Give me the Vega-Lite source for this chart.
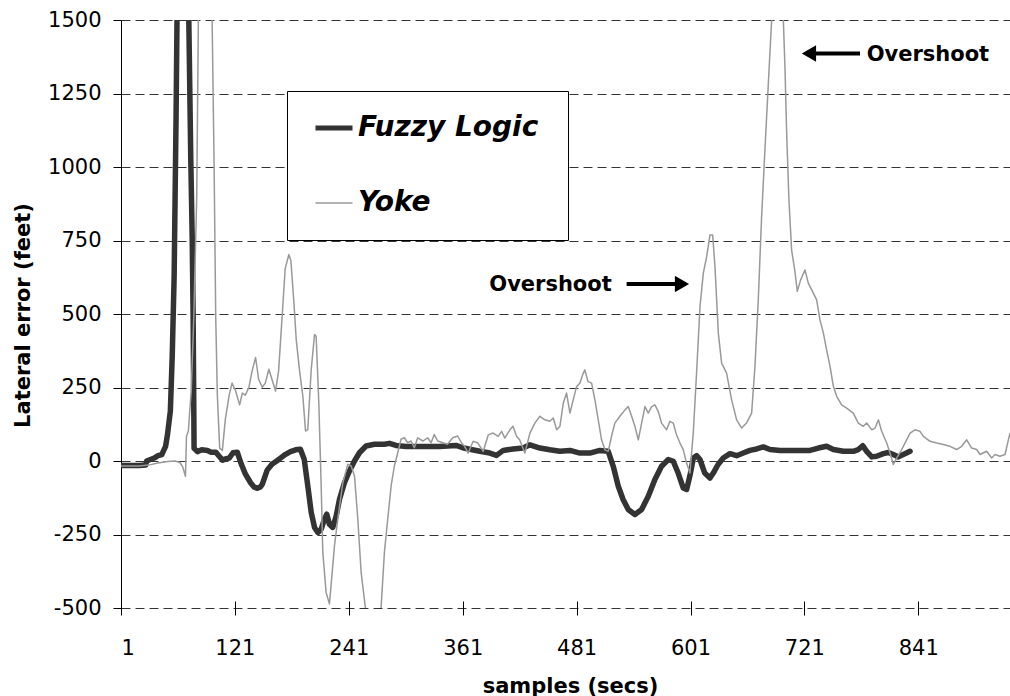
{
  "$schema": "https://vega.github.io/schema/vega-lite/v6.json",
  "width": 889,
  "height": 588,
  "autosize": {"type": "none"},
  "padding": {"left": 121, "top": 20, "right": 0, "bottom": 88},
  "background": "white",
  "config": {
    "view": {"stroke": null},
    "font": "DejaVu Sans",
    "axis": {"labelFont": "DejaVu Sans", "titleFont": "DejaVu Sans", "labelColor": "black", "titleColor": "black"}
  },
  "datasets": {
    "series": [
      {"series":"Fuzzy Logic","s":1,"v":-15},{"series":"Fuzzy Logic","s":10,"v":-15},{"series":"Fuzzy Logic","s":20,"v":-15},{"series":"Fuzzy Logic","s":27,"v":-14},{"series":"Fuzzy Logic","s":28,"v":0},{"series":"Fuzzy Logic","s":32,"v":5},{"series":"Fuzzy Logic","s":36,"v":10},{"series":"Fuzzy Logic","s":40,"v":18},{"series":"Fuzzy Logic","s":44,"v":22},{"series":"Fuzzy Logic","s":46,"v":36},{"series":"Fuzzy Logic","s":48,"v":50},{"series":"Fuzzy Logic","s":50,"v":90},{"series":"Fuzzy Logic","s":53,"v":170},{"series":"Fuzzy Logic","s":55,"v":360},{"series":"Fuzzy Logic","s":57,"v":630},{"series":"Fuzzy Logic","s":59,"v":1165},{"series":"Fuzzy Logic","s":60,"v":1500},{"series":"Fuzzy Logic","s":63,"v":2400},{"series":"Fuzzy Logic","s":66,"v":2800},{"series":"Fuzzy Logic","s":69,"v":2400},{"series":"Fuzzy Logic","s":72,"v":1600},{"series":"Fuzzy Logic","s":74.5,"v":1030},{"series":"Fuzzy Logic","s":76,"v":760},{"series":"Fuzzy Logic","s":77,"v":490},{"series":"Fuzzy Logic","s":78,"v":43},{"series":"Fuzzy Logic","s":81.5,"v":32},{"series":"Fuzzy Logic","s":86,"v":38},{"series":"Fuzzy Logic","s":92,"v":36},{"series":"Fuzzy Logic","s":96,"v":30},{"series":"Fuzzy Logic","s":101,"v":30},{"series":"Fuzzy Logic","s":104,"v":18},{"series":"Fuzzy Logic","s":108,"v":3},{"series":"Fuzzy Logic","s":112,"v":8},{"series":"Fuzzy Logic","s":115,"v":10},{"series":"Fuzzy Logic","s":119,"v":28},{"series":"Fuzzy Logic","s":123.5,"v":30},{"series":"Fuzzy Logic","s":127,"v":-4},{"series":"Fuzzy Logic","s":132,"v":-44},{"series":"Fuzzy Logic","s":137.5,"v":-74},{"series":"Fuzzy Logic","s":141,"v":-88},{"series":"Fuzzy Logic","s":144.5,"v":-93},{"series":"Fuzzy Logic","s":148,"v":-88},{"series":"Fuzzy Logic","s":150,"v":-78},{"series":"Fuzzy Logic","s":155,"v":-31},{"series":"Fuzzy Logic","s":160,"v":-11},{"series":"Fuzzy Logic","s":165,"v":0},{"series":"Fuzzy Logic","s":169,"v":10},{"series":"Fuzzy Logic","s":174,"v":22},{"series":"Fuzzy Logic","s":179.5,"v":32},{"series":"Fuzzy Logic","s":185,"v":38},{"series":"Fuzzy Logic","s":190,"v":40},{"series":"Fuzzy Logic","s":194,"v":6},{"series":"Fuzzy Logic","s":197.8,"v":-85},{"series":"Fuzzy Logic","s":201.4,"v":-175},{"series":"Fuzzy Logic","s":204.9,"v":-226},{"series":"Fuzzy Logic","s":208.4,"v":-243},{"series":"Fuzzy Logic","s":211.9,"v":-232},{"series":"Fuzzy Logic","s":215.4,"v":-198},{"series":"Fuzzy Logic","s":217.8,"v":-181},{"series":"Fuzzy Logic","s":220.6,"v":-215},{"series":"Fuzzy Logic","s":224.1,"v":-226},{"series":"Fuzzy Logic","s":227.7,"v":-187},{"series":"Fuzzy Logic","s":231.2,"v":-130},{"series":"Fuzzy Logic","s":236.4,"v":-74},{"series":"Fuzzy Logic","s":241.7,"v":-34},{"series":"Fuzzy Logic","s":247,"v":0},{"series":"Fuzzy Logic","s":252.2,"v":28},{"series":"Fuzzy Logic","s":259.2,"v":51},{"series":"Fuzzy Logic","s":268,"v":57},{"series":"Fuzzy Logic","s":278.5,"v":57},{"series":"Fuzzy Logic","s":283.8,"v":60},{"series":"Fuzzy Logic","s":290.8,"v":53},{"series":"Fuzzy Logic","s":301.4,"v":49},{"series":"Fuzzy Logic","s":319,"v":49},{"series":"Fuzzy Logic","s":336.5,"v":49},{"series":"Fuzzy Logic","s":354,"v":53},{"series":"Fuzzy Logic","s":361,"v":45},{"series":"Fuzzy Logic","s":368.5,"v":40},{"series":"Fuzzy Logic","s":379,"v":33},{"series":"Fuzzy Logic","s":389.6,"v":27},{"series":"Fuzzy Logic","s":396.6,"v":19},{"series":"Fuzzy Logic","s":403.7,"v":36},{"series":"Fuzzy Logic","s":414,"v":41},{"series":"Fuzzy Logic","s":424.7,"v":44},{"series":"Fuzzy Logic","s":431.8,"v":55},{"series":"Fuzzy Logic","s":442.3,"v":44},{"series":"Fuzzy Logic","s":452.8,"v":38},{"series":"Fuzzy Logic","s":463.4,"v":33},{"series":"Fuzzy Logic","s":474,"v":36},{"series":"Fuzzy Logic","s":484.5,"v":27},{"series":"Fuzzy Logic","s":495,"v":27},{"series":"Fuzzy Logic","s":505.5,"v":36},{"series":"Fuzzy Logic","s":514.3,"v":33},{"series":"Fuzzy Logic","s":519.6,"v":-18},{"series":"Fuzzy Logic","s":524.9,"v":-86},{"series":"Fuzzy Logic","s":530,"v":-131},{"series":"Fuzzy Logic","s":535.4,"v":-165},{"series":"Fuzzy Logic","s":542.4,"v":-182},{"series":"Fuzzy Logic","s":549.5,"v":-165},{"series":"Fuzzy Logic","s":556.5,"v":-120},{"series":"Fuzzy Logic","s":563.5,"v":-63},{"series":"Fuzzy Logic","s":570.5,"v":-18},{"series":"Fuzzy Logic","s":577.6,"v":5},{"series":"Fuzzy Logic","s":582.8,"v":-1},{"series":"Fuzzy Logic","s":588,"v":-41},{"series":"Fuzzy Logic","s":593.4,"v":-92},{"series":"Fuzzy Logic","s":596.9,"v":-97},{"series":"Fuzzy Logic","s":600.4,"v":-50},{"series":"Fuzzy Logic","s":604,"v":10},{"series":"Fuzzy Logic","s":607.4,"v":18},{"series":"Fuzzy Logic","s":611,"v":5},{"series":"Fuzzy Logic","s":616,"v":-41},{"series":"Fuzzy Logic","s":621.5,"v":-58},{"series":"Fuzzy Logic","s":625,"v":-41},{"series":"Fuzzy Logic","s":630,"v":-12},{"series":"Fuzzy Logic","s":635.5,"v":10},{"series":"Fuzzy Logic","s":642.6,"v":25},{"series":"Fuzzy Logic","s":649.6,"v":18},{"series":"Fuzzy Logic","s":656.6,"v":27},{"series":"Fuzzy Logic","s":663.6,"v":36},{"series":"Fuzzy Logic","s":670.7,"v":41},{"series":"Fuzzy Logic","s":677.7,"v":48},{"series":"Fuzzy Logic","s":684.7,"v":39},{"series":"Fuzzy Logic","s":695.3,"v":36},{"series":"Fuzzy Logic","s":705.8,"v":36},{"series":"Fuzzy Logic","s":716.3,"v":36},{"series":"Fuzzy Logic","s":726.9,"v":36},{"series":"Fuzzy Logic","s":735.7,"v":44},{"series":"Fuzzy Logic","s":744.4,"v":50},{"series":"Fuzzy Logic","s":751.5,"v":39},{"series":"Fuzzy Logic","s":762,"v":33},{"series":"Fuzzy Logic","s":772.5,"v":33},{"series":"Fuzzy Logic","s":777.8,"v":39},{"series":"Fuzzy Logic","s":782.4,"v":52},{"series":"Fuzzy Logic","s":786.6,"v":33},{"series":"Fuzzy Logic","s":792,"v":14},{"series":"Fuzzy Logic","s":797.1,"v":16},{"series":"Fuzzy Logic","s":804.2,"v":25},{"series":"Fuzzy Logic","s":809.4,"v":29},{"series":"Fuzzy Logic","s":814.7,"v":22},{"series":"Fuzzy Logic","s":820,"v":14},{"series":"Fuzzy Logic","s":825.2,"v":22},{"series":"Fuzzy Logic","s":832.3,"v":33},
      {"series":"Yoke","s":1,"v":-17},{"series":"Yoke","s":20,"v":-17},{"series":"Yoke","s":30,"v":-14},{"series":"Yoke","s":40,"v":-7},{"series":"Yoke","s":50,"v":-2},{"series":"Yoke","s":58,"v":0},{"series":"Yoke","s":63,"v":-5},{"series":"Yoke","s":66,"v":-20},{"series":"Yoke","s":68.9,"v":-52},{"series":"Yoke","s":70,"v":84},{"series":"Yoke","s":72,"v":103},{"series":"Yoke","s":73,"v":150},{"series":"Yoke","s":75,"v":240},{"series":"Yoke","s":77.7,"v":490},{"series":"Yoke","s":80.8,"v":900},{"series":"Yoke","s":82.5,"v":1500},{"series":"Yoke","s":86,"v":3000},{"series":"Yoke","s":89,"v":3600},{"series":"Yoke","s":93,"v":3000},{"series":"Yoke","s":97,"v":1500},{"series":"Yoke","s":99,"v":1030},{"series":"Yoke","s":100.8,"v":490},{"series":"Yoke","s":102.5,"v":224},{"series":"Yoke","s":105,"v":43},{"series":"Yoke","s":107.8,"v":36},{"series":"Yoke","s":111,"v":144},{"series":"Yoke","s":115,"v":224},{"series":"Yoke","s":118,"v":265},{"series":"Yoke","s":121.8,"v":238},{"series":"Yoke","s":126,"v":191},{"series":"Yoke","s":128.8,"v":231},{"series":"Yoke","s":132,"v":224},{"series":"Yoke","s":135.8,"v":251},{"series":"Yoke","s":139,"v":305},{"series":"Yoke","s":142.8,"v":352},{"series":"Yoke","s":146,"v":278},{"series":"Yoke","s":149.8,"v":251},{"series":"Yoke","s":153,"v":265},{"series":"Yoke","s":156.8,"v":312},{"series":"Yoke","s":160,"v":278},{"series":"Yoke","s":163.8,"v":238},{"series":"Yoke","s":167,"v":305},{"series":"Yoke","s":170.8,"v":493},{"series":"Yoke","s":174,"v":655},{"series":"Yoke","s":177.8,"v":702},{"series":"Yoke","s":180,"v":681},{"series":"Yoke","s":183,"v":547},{"series":"Yoke","s":185.6,"v":413},{"series":"Yoke","s":189,"v":311},{"series":"Yoke","s":192.6,"v":220},{"series":"Yoke","s":195.4,"v":102},{"series":"Yoke","s":197.8,"v":107},{"series":"Yoke","s":201.4,"v":311},{"series":"Yoke","s":204.9,"v":430},{"series":"Yoke","s":206.6,"v":424},{"series":"Yoke","s":209.4,"v":198},{"series":"Yoke","s":211.9,"v":-85},{"series":"Yoke","s":213.6,"v":-311},{"series":"Yoke","s":217.1,"v":-447},{"series":"Yoke","s":220.6,"v":-486},{"series":"Yoke","s":223.5,"v":-379},{"series":"Yoke","s":225.9,"v":-288},{"series":"Yoke","s":229.4,"v":-198},{"series":"Yoke","s":234.7,"v":-74},{"series":"Yoke","s":240,"v":-11},{"series":"Yoke","s":243.5,"v":-17},{"series":"Yoke","s":247,"v":-51},{"series":"Yoke","s":250.5,"v":-198},{"series":"Yoke","s":254,"v":-379},{"series":"Yoke","s":258.5,"v":-500},{"series":"Yoke","s":262,"v":-650},{"series":"Yoke","s":266,"v":-700},{"series":"Yoke","s":271,"v":-650},{"series":"Yoke","s":275,"v":-500},{"series":"Yoke","s":278.5,"v":-311},{"series":"Yoke","s":282,"v":-198},{"series":"Yoke","s":285.6,"v":-85},{"series":"Yoke","s":289,"v":-17},{"series":"Yoke","s":292.6,"v":28},{"series":"Yoke","s":296,"v":74},{"series":"Yoke","s":299.6,"v":79},{"series":"Yoke","s":303,"v":62},{"series":"Yoke","s":306.6,"v":68},{"series":"Yoke","s":310,"v":45},{"series":"Yoke","s":313.6,"v":79},{"series":"Yoke","s":319,"v":68},{"series":"Yoke","s":324,"v":79},{"series":"Yoke","s":327.7,"v":62},{"series":"Yoke","s":331,"v":90},{"series":"Yoke","s":334.7,"v":68},{"series":"Yoke","s":340,"v":62},{"series":"Yoke","s":345,"v":57},{"series":"Yoke","s":350.5,"v":79},{"series":"Yoke","s":355.7,"v":85},{"series":"Yoke","s":360,"v":60},{"series":"Yoke","s":363,"v":50},{"series":"Yoke","s":366.8,"v":27},{"series":"Yoke","s":372,"v":67},{"series":"Yoke","s":377,"v":61},{"series":"Yoke","s":382.6,"v":33},{"series":"Yoke","s":388,"v":89},{"series":"Yoke","s":393,"v":95},{"series":"Yoke","s":398.4,"v":84},{"series":"Yoke","s":402,"v":101},{"series":"Yoke","s":405.4,"v":78},{"series":"Yoke","s":410.7,"v":106},{"series":"Yoke","s":414,"v":118},{"series":"Yoke","s":417.7,"v":84},{"series":"Yoke","s":421,"v":72},{"series":"Yoke","s":426.5,"v":27},{"series":"Yoke","s":431.8,"v":95},{"series":"Yoke","s":437,"v":129},{"series":"Yoke","s":442.3,"v":152},{"series":"Yoke","s":447.6,"v":140},{"series":"Yoke","s":452.8,"v":135},{"series":"Yoke","s":456.4,"v":146},{"series":"Yoke","s":460,"v":106},{"series":"Yoke","s":463.4,"v":118},{"series":"Yoke","s":467,"v":197},{"series":"Yoke","s":470.4,"v":231},{"series":"Yoke","s":474,"v":163},{"series":"Yoke","s":477.4,"v":208},{"series":"Yoke","s":481,"v":253},{"series":"Yoke","s":484.5,"v":265},{"series":"Yoke","s":487.3,"v":293},{"series":"Yoke","s":489.7,"v":310},{"series":"Yoke","s":493,"v":270},{"series":"Yoke","s":496.8,"v":265},{"series":"Yoke","s":500.3,"v":208},{"series":"Yoke","s":503.8,"v":140},{"series":"Yoke","s":507.3,"v":72},{"series":"Yoke","s":510.8,"v":38},{"series":"Yoke","s":514.3,"v":33},{"series":"Yoke","s":517.8,"v":84},{"series":"Yoke","s":521.3,"v":129},{"series":"Yoke","s":526.6,"v":152},{"series":"Yoke","s":532,"v":174},{"series":"Yoke","s":535.4,"v":185},{"series":"Yoke","s":539,"v":152},{"series":"Yoke","s":542.4,"v":118},{"series":"Yoke","s":546,"v":72},{"series":"Yoke","s":549.5,"v":129},{"series":"Yoke","s":553,"v":185},{"series":"Yoke","s":556.5,"v":163},{"series":"Yoke","s":560,"v":185},{"series":"Yoke","s":563.5,"v":191},{"series":"Yoke","s":567,"v":169},{"series":"Yoke","s":570.5,"v":129},{"series":"Yoke","s":575.8,"v":106},{"series":"Yoke","s":579.3,"v":135},{"series":"Yoke","s":582.8,"v":129},{"series":"Yoke","s":586.3,"v":89},{"series":"Yoke","s":589.9,"v":61},{"series":"Yoke","s":593.4,"v":38},{"series":"Yoke","s":596.9,"v":-7},{"series":"Yoke","s":600.4,"v":-41},{"series":"Yoke","s":603.9,"v":95},{"series":"Yoke","s":607.4,"v":300},{"series":"Yoke","s":611,"v":526},{"series":"Yoke","s":614.5,"v":639},{"series":"Yoke","s":618,"v":695},{"series":"Yoke","s":621.5,"v":769},{"series":"Yoke","s":624.3,"v":769},{"series":"Yoke","s":626.8,"v":661},{"series":"Yoke","s":630.3,"v":435},{"series":"Yoke","s":633.8,"v":333},{"series":"Yoke","s":639,"v":299},{"series":"Yoke","s":644.3,"v":208},{"series":"Yoke","s":649.6,"v":140},{"series":"Yoke","s":654.9,"v":112},{"series":"Yoke","s":660,"v":129},{"series":"Yoke","s":665.4,"v":163},{"series":"Yoke","s":668.9,"v":322},{"series":"Yoke","s":672.4,"v":548},{"series":"Yoke","s":675.9,"v":831},{"series":"Yoke","s":679.4,"v":1058},{"series":"Yoke","s":683,"v":1284},{"series":"Yoke","s":686.5,"v":1500},{"series":"Yoke","s":690,"v":1750},{"series":"Yoke","s":693,"v":1800},{"series":"Yoke","s":696,"v":1700},{"series":"Yoke","s":698.8,"v":1500},{"series":"Yoke","s":700.5,"v":1341},{"series":"Yoke","s":702.3,"v":1115},{"series":"Yoke","s":704.7,"v":888},{"series":"Yoke","s":707.5,"v":718},{"series":"Yoke","s":711,"v":645},{"series":"Yoke","s":713.5,"v":577},{"series":"Yoke","s":717,"v":616},{"series":"Yoke","s":721.6,"v":650},{"series":"Yoke","s":725.1,"v":605},{"series":"Yoke","s":730.4,"v":571},{"series":"Yoke","s":733.9,"v":548},{"series":"Yoke","s":737.4,"v":480},{"series":"Yoke","s":741,"v":435},{"series":"Yoke","s":744.4,"v":378},{"series":"Yoke","s":748,"v":322},{"series":"Yoke","s":751.5,"v":254},{"series":"Yoke","s":755,"v":220},{"series":"Yoke","s":760.2,"v":191},{"series":"Yoke","s":765.5,"v":180},{"series":"Yoke","s":772.5,"v":163},{"series":"Yoke","s":777.8,"v":129},{"series":"Yoke","s":783,"v":118},{"series":"Yoke","s":786.6,"v":129},{"series":"Yoke","s":792,"v":106},{"series":"Yoke","s":795.4,"v":112},{"series":"Yoke","s":799,"v":140},{"series":"Yoke","s":802.4,"v":101},{"series":"Yoke","s":807.7,"v":61},{"series":"Yoke","s":811.2,"v":27},{"series":"Yoke","s":814.7,"v":-12},{"series":"Yoke","s":818.2,"v":10},{"series":"Yoke","s":823.5,"v":39},{"series":"Yoke","s":828.7,"v":72},{"series":"Yoke","s":832.3,"v":95},{"series":"Yoke","s":837.5,"v":106},{"series":"Yoke","s":842.8,"v":101},{"series":"Yoke","s":846.3,"v":84},{"series":"Yoke","s":853.4,"v":67},{"series":"Yoke","s":860.4,"v":61},{"series":"Yoke","s":867.4,"v":56},{"series":"Yoke","s":874.4,"v":50},{"series":"Yoke","s":881.4,"v":39},{"series":"Yoke","s":886.7,"v":50},{"series":"Yoke","s":892,"v":72},{"series":"Yoke","s":897.2,"v":44},{"series":"Yoke","s":902.5,"v":39},{"series":"Yoke","s":906,"v":22},{"series":"Yoke","s":913,"v":33},{"series":"Yoke","s":918.3,"v":10},{"series":"Yoke","s":921.8,"v":22},{"series":"Yoke","s":927,"v":16},{"series":"Yoke","s":932.4,"v":22},{"series":"Yoke","s":935.9,"v":72},{"series":"Yoke","s":937.6,"v":95}
    ],
    "arrows": [
      {"x0": 533.7, "x1": 587.7, "y": 602, "hx": 592, "dir": "right"},
      {"x0": 730.1, "x1": 779.6, "y": 1386, "hx": 725.8, "dir": "left"}
    ],
    "notes": [
      {"x": 389, "y": 599, "label": "Overshoot"},
      {"x": 786.6, "y": 1381, "label": "Overshoot"}
    ]
  },
  "layer": [
    {
      "data": {"name": "series"},
      "transform": [{"filter": "datum.series === 'Fuzzy Logic'"}],
      "mark": {"type": "line", "clip": true, "strokeJoin": "round", "strokeCap": "round", "strokeWidth": 5.5},
      "encoding": {
        "x": {"field": "s", "type": "quantitative", "scale": {"domain": [1, 937.6], "nice": false, "zero": false},
          "axis": {"values": [1, 121, 241, 361, 481, 601, 721, 841], "title": "samples (secs)", "grid": false, "domain": false,
            "offset": -7, "tickSize": 14, "tickColor": "black", "tickWidth": 1, "labelFontSize": 21, "labelPadding": 22,
            "labelExpr": "'' + datum.value",
            "titleFontSize": 21, "titleFontWeight": "bold", "titleX": 449, "titleY": 85, "titleBaseline": "middle", "titleAnchor": "middle"}},
        "y": {"field": "v", "type": "quantitative", "scale": {"domain": [-500, 1500], "nice": false, "zero": false},
          "axis": {"values": [-500, -250, 0, 250, 500, 750, 1000, 1250, 1500], "title": "Lateral error (feet)", "grid": true,
            "labelExpr": "'' + datum.value",
            "gridDash": [9, 5], "gridColor": "#333333", "gridWidth": 1, "tickSize": 8, "tickColor": "black", "domainColor": "black",
            "labelFontSize": 21, "labelPadding": 12, "titleFontSize": 21, "titleFontWeight": "bold",
            "titleX": -98, "titleY": 295, "titleBaseline": "middle", "titleAlign": "center", "titleAngle": 270}},
        "color": {"field": "series", "type": "nominal", "scale": {"domain": ["Fuzzy Logic", "Yoke"], "range": ["#333333", "#999999"]},
          "legend": {"orient": "none", "legendX": 166, "legendY": 71, "title": " ", "titleOrient": "right", "titlePadding": 7, "titleFontSize": 11,
            "fillColor": "white", "strokeColor": "black", "padding": 23, "symbolType": "stroke", "symbolSize": 1369,
            "symbolOffset": 10, "labelOffset": 10, "rowPadding": 47, "labelFontSize": 28, "labelFont": "DejaVu Sans", "labelLimit": 400,
            "labelFontWeight": "bold", "labelFontStyle": "italic", "labelColor": "black", "symbolOpacity": 1,
            "encode": {"symbols": {"update": {"strokeWidth": {"signal": "datum.value === 'Fuzzy Logic' ? 5 : 1.5"}}}}}}
      }
    },
    {
      "data": {"name": "series"},
      "transform": [{"filter": "datum.series === 'Yoke'"}],
      "mark": {"type": "line", "clip": true, "strokeJoin": "round", "strokeWidth": 1.5},
      "encoding": {
        "x": {"field": "s", "type": "quantitative", "scale": {"domain": [1, 937.6], "nice": false, "zero": false}},
        "y": {"field": "v", "type": "quantitative", "scale": {"domain": [-500, 1500], "nice": false, "zero": false}},
        "color": {"field": "series", "type": "nominal"}
      }
    },
    {
      "data": {"name": "arrows"},
      "mark": {"type": "rule", "color": "black", "strokeWidth": 4},
      "encoding": {
        "x": {"field": "x0", "type": "quantitative", "scale": {"domain": [1, 937.6], "nice": false, "zero": false}},
        "x2": {"field": "x1"},
        "y": {"field": "y", "type": "quantitative", "scale": {"domain": [-500, 1500], "nice": false, "zero": false}}
      }
    },
    {
      "data": {"name": "arrows"},
      "mark": {"type": "point", "filled": true, "color": "black", "opacity": 1, "size": 270, "strokeWidth": 0},
      "encoding": {
        "x": {"field": "hx", "type": "quantitative", "scale": {"domain": [1, 937.6], "nice": false, "zero": false}},
        "y": {"field": "y", "type": "quantitative", "scale": {"domain": [-500, 1500], "nice": false, "zero": false}},
        "shape": {"field": "dir", "type": "nominal", "scale": {"domain": ["right", "left"], "range": ["triangle-right", "triangle-left"]}, "legend": null}
      }
    },
    {
      "data": {"name": "notes"},
      "mark": {"type": "text", "font": "DejaVu Sans", "fontWeight": "bold", "fontSize": 21, "align": "left", "baseline": "middle", "color": "black"},
      "encoding": {
        "x": {"field": "x", "type": "quantitative", "scale": {"domain": [1, 937.6], "nice": false, "zero": false}},
        "y": {"field": "y", "type": "quantitative", "scale": {"domain": [-500, 1500], "nice": false, "zero": false}},
        "text": {"field": "label", "type": "nominal"}
      }
    },
    {
      "mark": {"type": "rule", "color": "black", "strokeWidth": 1},
      "encoding": {
        "y": {"datum": -500, "type": "quantitative", "scale": {"domain": [-500, 1500], "nice": false, "zero": false}}
      }
    }
  ]
}
